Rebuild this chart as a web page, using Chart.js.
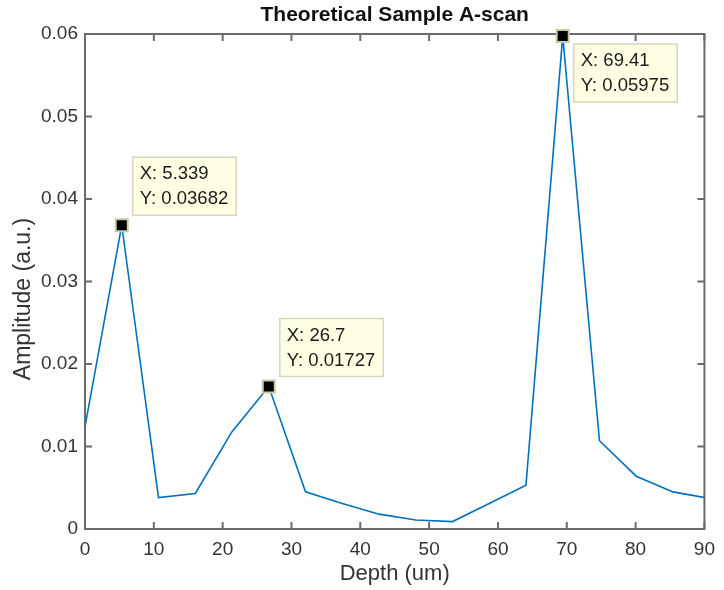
<!DOCTYPE html>
<html>
<head>
<meta charset="utf-8">
<script src="https://cdn.jsdelivr.net/npm/chart.js@4.4.1/dist/chart.umd.min.js"></script>
<style>
  html, body { margin: 0; padding: 0; background: #fff; }
  #wrap { width: 724px; height: 590px; }
</style>
</head>
<body>
<div id="wrap"><canvas id="scan"></canvas></div>
<script>
// depth samples (um) and amplitude (a.u.)
const depth     = [0, 5.339, 10.68, 16.02, 21.36, 26.7, 32.04, 37.38, 42.72, 48.06, 53.4, 58.73, 64.07, 69.41, 74.75, 80.09, 85.43, 90.77];
const amplitude = [0.0124, 0.03682, 0.0038, 0.0043, 0.0118, 0.01727, 0.0045, 0.0031, 0.0018, 0.0011, 0.0009, 0.0031, 0.0053, 0.05975, 0.0107, 0.0064, 0.0045, 0.0037];
const tipIdx    = [1, 5, 13];                 // points with a data tip
const xTicks    = [0, 10, 20, 30, 40, 50, 60, 70, 80, 90];
const yTicks    = [0, 0.01, 0.02, 0.03, 0.04, 0.05, 0.06];

const FONT = '"Liberation Sans", Arial, Helvetica, sans-serif';
const AXIS = '#6b6b6b';
const TXT  = '#333';

// box round the axes with MATLAB-style inward ticks, plus title / y label
const frame = {
  id: 'frame',
  beforeDatasetsDraw(chart) {
    const {ctx, chartArea: a, scales: {x, y}} = chart;
    const tl = 7;
    ctx.save();
    ctx.strokeStyle = AXIS;
    ctx.lineWidth = 2;
    ctx.strokeRect(a.left, a.top, a.right - a.left, a.bottom - a.top);
    ctx.beginPath();
    xTicks.forEach(v => {
      const px = x.getPixelForValue(v);
      ctx.moveTo(px, a.bottom); ctx.lineTo(px, a.bottom - tl);
      ctx.moveTo(px, a.top);    ctx.lineTo(px, a.top + tl);
    });
    yTicks.forEach(v => {
      const py = y.getPixelForValue(v);
      ctx.moveTo(a.left, py);  ctx.lineTo(a.left + tl, py);
      ctx.moveTo(a.right, py); ctx.lineTo(a.right - tl, py);
    });
    ctx.stroke();

    ctx.textAlign = 'center';
    ctx.textBaseline = 'middle';
    // title, centred over the axes
    ctx.fillStyle = '#111';
    ctx.font = 'bold 21px ' + FONT;
    ctx.fillText('Theoretical Sample A-scan', (a.left + a.right) / 2, 15);
    // y label (MATLAB sits it a bit below centre)
    ctx.fillStyle = TXT;
    ctx.font = '23px ' + FONT;
    ctx.translate(24, 299);
    ctx.rotate(-Math.PI / 2);
    ctx.fillText('Amplitude (a.u.)', 0, 0);
    ctx.restore();
  }
};

// data tips
const tips = {
  id: 'tips',
  afterDatasetsDraw(chart) {
    const {ctx, scales: {x, y}} = chart;
    ctx.save();
    ctx.font = '18.5px ' + FONT;
    ctx.textBaseline = 'middle';
    tipIdx.forEach(i => {
      const px = x.getPixelForValue(depth[i]);
      const py = y.getPixelForValue(amplitude[i]);
      const lines = ['X: ' + depth[i], 'Y: ' + amplitude[i]];
      const w = Math.max(...lines.map(t => ctx.measureText(t).width)) + 15;
      const h = 58;
      const below = py - h - 12 < chart.chartArea.top;
      const bx = px + 11;
      const by = below ? py + 8 : py - 10 - h;
      ctx.fillStyle = '#ffffe3';
      ctx.fillRect(bx, by, w, h);
      ctx.strokeStyle = '#d6d6c2';
      ctx.lineWidth = 1.5;
      ctx.strokeRect(bx, by, w, h);
      ctx.fillStyle = '#1a1a1a';
      ctx.fillText(lines[0], bx + 7, by + 17);
      ctx.fillText(lines[1], bx + 7, by + 42);
    });
    ctx.restore();
  }
};

new Chart(document.getElementById('scan'), {
  type: 'line',
  data: {
    datasets: [{
      data: depth.map((d, i) => ({x: d, y: amplitude[i]})),
      borderColor: '#0072bd',
      borderWidth: 1.6,
      tension: 0,
      fill: false,
      pointStyle: 'rect',
      pointRadius: depth.map((d, i) => tipIdx.includes(i) ? 8.5 : 0),
      pointBackgroundColor: '#000',
      pointBorderColor: '#c9c9a6',
      pointBorderWidth: 2,
      clip: {left: 0, right: 0, top: 14, bottom: 0}
    }]
  },
  options: {
    responsive: true,
    maintainAspectRatio: false,
    animation: false,
    layout: { padding: {left: 0, right: 12, top: 34, bottom: 0} },
    plugins: {
      legend: { display: false },
      tooltip: { enabled: false },
      title: { display: false }
    },
    scales: {
      x: {
        type: 'linear',
        min: 0, max: 90,
        afterBuildTicks: s => { s.ticks = xTicks.map(v => ({value: v})); },
        afterFit: s => { s.height = 61; },
        grid: { display: false, drawTicks: false },
        border: { display: false },
        ticks: { color: TXT, font: { family: FONT, size: 19 }, padding: 9, maxRotation: 0 },
        title: {
          display: true, text: 'Depth (um)', color: TXT,
          font: { family: FONT, size: 22 }, padding: { top: 0, bottom: 3 }
        }
      },
      y: {
        min: 0, max: 0.06,
        afterBuildTicks: s => { s.ticks = yTicks.map(v => ({value: v})); },
        afterFit: s => { s.width = 85; },
        grid: { display: false, drawTicks: false },
        border: { display: false },
        ticks: {
          color: TXT, font: { family: FONT, size: 19 }, padding: 7,
          callback: v => v === 0 ? '0' : v.toFixed(2)
        }
      }
    }
  },
  plugins: [frame, tips]
});
</script>
</body>
</html>
